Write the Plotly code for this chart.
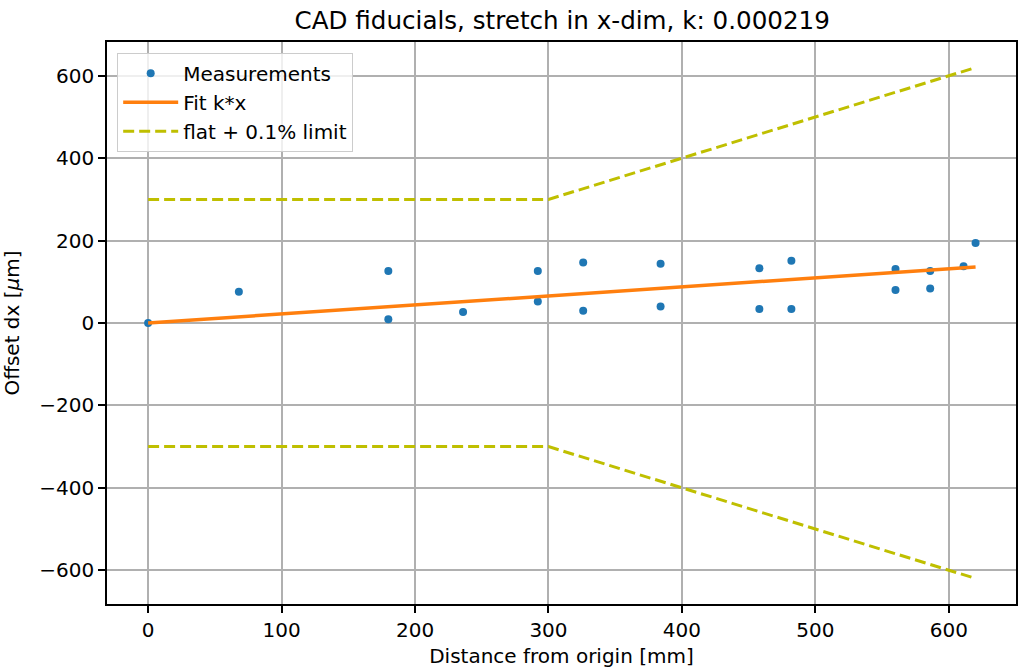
import plotly.graph_objects as go

# Measurements (distance in mm, offset in µm)
meas_x = [0, 68, 180, 180, 236, 292, 292, 326, 326, 384, 384, 458, 458, 482, 482, 560, 560, 586, 586, 611, 620]
meas_y = [0, 76, 126, 9, 27, 126, 52, 147, 30, 144, 40, 133, 34, 151, 34, 131, 80, 126, 84, 138, 194]

# Fit k*x (k = 0.000219)
fit_x = [0, 620]
fit_y = [0, 135.8]

# flat + 0.1% limit
lim_x = [0, 300, 620]
lim_upper = [300, 300, 620]
lim_lower = [-300, -300, -620]

x_ticks = [0, 100, 200, 300, 400, 500, 600]
y_ticks = [-600, -400, -200, 0, 200, 400, 600]

FONT = "DejaVu Sans"
LIM_COLOR = "#bfbf00"

fig = go.Figure()
fig.add_trace(go.Scatter(x=meas_x, y=meas_y, mode="markers", name="Measurements",
                         marker=dict(color="#1f77b4", size=8)))
fig.add_trace(go.Scatter(x=fit_x, y=fit_y, mode="lines", name="Fit k*x",
                         line=dict(color="#ff7f0e", width=3.5)))
fig.add_trace(go.Scatter(x=lim_x, y=lim_upper, mode="lines", name="flat + 0.1% limit",
                         line=dict(color=LIM_COLOR, width=3, dash="11px,5px")))
fig.add_trace(go.Scatter(x=lim_x, y=lim_lower, mode="lines", showlegend=False,
                         line=dict(color=LIM_COLOR, width=3, dash="11px,5px")))

axis_common = dict(showgrid=True, gridcolor="#b0b0b0", gridwidth=1.6, zeroline=False,
                   showline=True, linecolor="black", linewidth=1.6, mirror=True,
                   ticks="outside", ticklen=7, tickwidth=1.6, tickcolor="black",
                   tickfont=dict(family=FONT, size=20, color="black"))

fig.update_layout(
    width=1026, height=672,
    margin=dict(l=106.5, r=8, t=42, b=63.7),
    paper_bgcolor="white", plot_bgcolor="white",
    font=dict(family=FONT, size=20, color="black"),
    title=dict(text="CAD fiducials, stretch in x-dim, k: 0.000219",
               font=dict(family=FONT, size=24.6, color="black"),
               x=(106.5 + 1018) / 2 / 1026, xanchor="center", y=1 - 20.5 / 672, yanchor="middle"),
    xaxis=dict(range=[-30.8, 650.3], tickvals=x_ticks,
               title=dict(text="Distance from origin [mm]", font=dict(family=FONT, size=20), standoff=8),
               **axis_common),
    yaxis=dict(range=[-682, 682], tickvals=y_ticks,
               title=dict(text="Offset dx [<i>μ</i>m]", font=dict(family=FONT, size=20), standoff=14),
               **axis_common),
    legend=dict(x=0.0112, y=0.981, xanchor="left", yanchor="top",
                bgcolor="rgba(255,255,255,0.8)", bordercolor="#cccccc", borderwidth=1,
                font=dict(family=FONT, size=20, color="black"), itemwidth=55,
                tracegroupgap=0),
    showlegend=True,
)

fig.write_html("out.html")
